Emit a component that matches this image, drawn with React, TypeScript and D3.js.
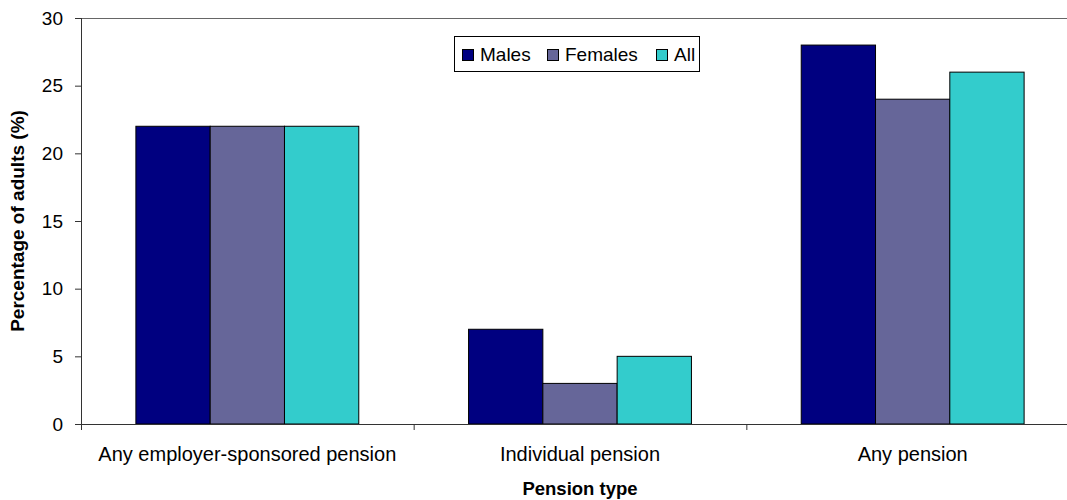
import React from 'react'
import * as d3 from 'd3';

const categories = ['Any employer-sponsored pension', 'Individual pension', 'Any pension'];
const seriesNames = ['Males', 'Females', 'All'];
const males = [22, 7, 28];
const females = [22, 3, 24];
const all = [22, 5, 26];
const yTicks = [0, 5, 10, 15, 20, 25, 30];
const colors = ['#000080', '#666699', '#33CCCC'];

const App: React.FC = () => {
  const width = 1067;
  const height = 500;
  const left = 81;
  const top = 18;
  const bottom = 424;
  const right = 1079;
  const font = 'Arial, "Liberation Sans", sans-serif';

  const values = [males, females, all];

  const x = d3.scaleBand<string>()
    .domain(categories)
    .range([left, right])
    .paddingInner(0)
    .paddingOuter(0);

  const bw = x.bandwidth();
  const gap = bw * 0.165;
  const inner = d3.scaleBand<string>()
    .domain(seriesNames)
    .range([gap, bw - gap]);

  const y = d3.scaleLinear().domain([0, 30]).range([bottom, top]);

  const legendX = 454;
  const legendY = 36;

  return (
    <svg width={width} height={height} style={{position: 'absolute', left: 0, top: 0}}>
      <rect x={0} y={0} width={width} height={height} fill='#fff' />
      {/* frame */}
      <line x1={left} x2={width} y1={top + 0.5} y2={top + 0.5} stroke='#666' strokeWidth={1} />
      {/* bars */}
      {categories.map((c, i) => (
        <g key={c} transform={`translate(${x(c)},0)`}>
          {seriesNames.map((s, j) => (
            <rect
              key={s}
              x={inner(s)}
              y={y(values[j][i])}
              width={inner.bandwidth()}
              height={bottom - y(values[j][i])}
              fill={colors[j]}
              stroke='#000'
              strokeWidth={1}
            />
          ))}
        </g>
      ))}
      {/* y axis */}
      <line x1={left + 0.5} x2={left + 0.5} y1={top} y2={bottom} stroke='#333' />
      {yTicks.map(t => (
        <g key={t}>
          <line x1={left - 6} x2={left} y1={y(t) + 0.5} y2={y(t) + 0.5} stroke='#333' />
          <text x={left - 18} y={y(t)} dy='0.35em' textAnchor='end' fontSize={19} fontFamily={font} fill='#000'>{t}</text>
        </g>
      ))}
      {/* x axis */}
      <line x1={left} x2={width} y1={bottom + 0.5} y2={bottom + 0.5} stroke='#333' />
      {categories.map(c => (
        <line key={c} x1={(x(c) as number) + 0.5} x2={(x(c) as number) + 0.5} y1={bottom} y2={bottom + 6} stroke='#333' />
      ))}
      <line x1={right + 0.5} x2={right + 0.5} y1={bottom} y2={bottom + 6} stroke='#333' />
      {categories.map(c => (
        <text key={c} x={(x(c) as number) + bw / 2} y={461} textAnchor='middle' fontSize={20} fontFamily={font} fill='#000'>{c}</text>
      ))}
      {/* axis titles */}
      <text x={580} y={495} textAnchor='middle' fontSize={18.5} fontWeight='bold' fontFamily={font} fill='#000'>Pension type</text>
      <text transform={`translate(24,${(top + bottom) / 2}) rotate(-90)`} textAnchor='middle' fontSize={19} fontWeight='bold' fontFamily={font} fill='#000'>Percentage of adults (%)</text>
      {/* legend */}
      <rect x={legendX + 0.5} y={legendY + 0.5} width={245} height={35} fill='#fff' stroke='#000' />
      {seriesNames.map((s, j) => {
        const offsets = [8, 93, 202];
        const lx = legendX + offsets[j];
        return (
          <g key={s}>
            <rect x={lx + 0.5} y={legendY + 13.5} width={11} height={11} fill={colors[j]} stroke='#000' />
            <text x={lx + 18} y={legendY + 18} dy='0.35em' fontSize={19} fontFamily={font} fill='#000'>{s}</text>
          </g>
        );
      })}
    </svg>
  )
}

export default App
